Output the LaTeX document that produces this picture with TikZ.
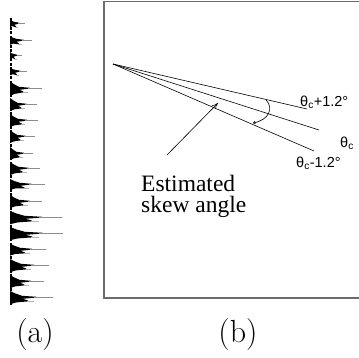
\documentclass[tikz,border=0pt]{standalone}
\usepackage{fontspec}
\usetikzlibrary{arrows.meta}
\newfontfamily\serifT{Liberation Serif}
\newfontfamily\sansA{Liberation Sans}
\newcommand\spk[3]{%
  \fill[black] (10,#1-#3) -- (10+0.12*#2-1.2,#1-0.6*#3) -- (10+0.28*#2-2.8,#1-1.2)
    -- (10+0.62*#2-6.2,#1-0.2) -- (10+0.62*#2-6.2,#1+0.5) -- (10+0.3*#2-3,#1+1.8)
    -- (10+0.42*#2-4.2,#1+3.6) -- (10+0.42*#2-4.2,#1+4.4) -- (10+0.15*#2-1.5,#1+0.9*#3)
    -- (10,#1+1.2*#3) -- cycle;
  \draw[black!45,line width=0.7pt] (10+0.55*#2-5.5,#1) -- (#2,#1);
  \draw[black!30,line width=0.6pt] (10+0.4*#2-4,#1+4) -- (10+0.55*#2-5.5,#1+4);
}
\tikzset{
  frame/.style={draw=black!58,line width=1.5pt},
  ray/.style={draw=black,line width=0.6pt},
  thlab/.style={font=\sansA\fontsize{14.5}{16}\selectfont,inner sep=0pt,anchor=west},
  sublab/.style={font=\fontsize{32}{36}\selectfont,inner sep=0pt},
}
\begin{document}
\begin{tikzpicture}[x=1pt,y=-1pt]
\useasboundingbox (0,0) rectangle (359,358);
% (a) histogram
\draw[black,line width=2pt,dash pattern=on 3pt off 1.5pt] (11,18) -- (11,306);
\foreach \yy/\ll/\hh in {23/25/3.5,40/32/4,55/22/3,71/27/3.5,88/42/6.5,104/37/6,120/38/6,136/35/6,153/33/6,168/40/6,184/45/5,201/42/6,217/62/6,233/63/6,249/46/5.5,265/49/6,281/44/6,297/53/6}
  {\spk{\yy}{\ll}{\hh}}
\node[sublab] (la) at (35,335) {(a)};
% (b) frame
\draw[frame] (104,1.5) rectangle (364,298);
\coordinate (apex) at (113,64);
\coordinate (etop) at (307,109);
\coordinate (emid) at (319,130);
\coordinate (ebot) at (314,151);
\draw[ray] (apex) -- (etop);
\draw[ray] (apex) -- (emid);
\draw[ray] (apex) -- (ebot);
\coordinate (arcA) at (266,100);
\coordinate (arcB) at (253,123);
\draw[ray,-{To[length=2.5pt,width=3pt]}] (arcA) .. controls (274,108) and (269,120) .. (arcB);
\node[thlab] (tp) at (300,102) {θ\textsubscript{c}+1.2°};
\node[thlab] (tc) at (340,143) {θ\textsubscript{c}};
\node[thlab] (tm) at (296,163) {θ\textsubscript{c}-1.2°};
\node[font=\serifT\fontsize{23.5}{21.5}\selectfont,align=left,anchor=base west,inner sep=0pt] (est) at (141,213) {Estimated\\skew angle};
\coordinate (arS) at (167,155);
\coordinate (arE) at (218,103);
\draw[ray,-{To[length=6pt,width=5pt]}] (arS) -- (arE);
\node[sublab] (lb) at (238,335) {(b)};
\end{tikzpicture}
\end{document}
